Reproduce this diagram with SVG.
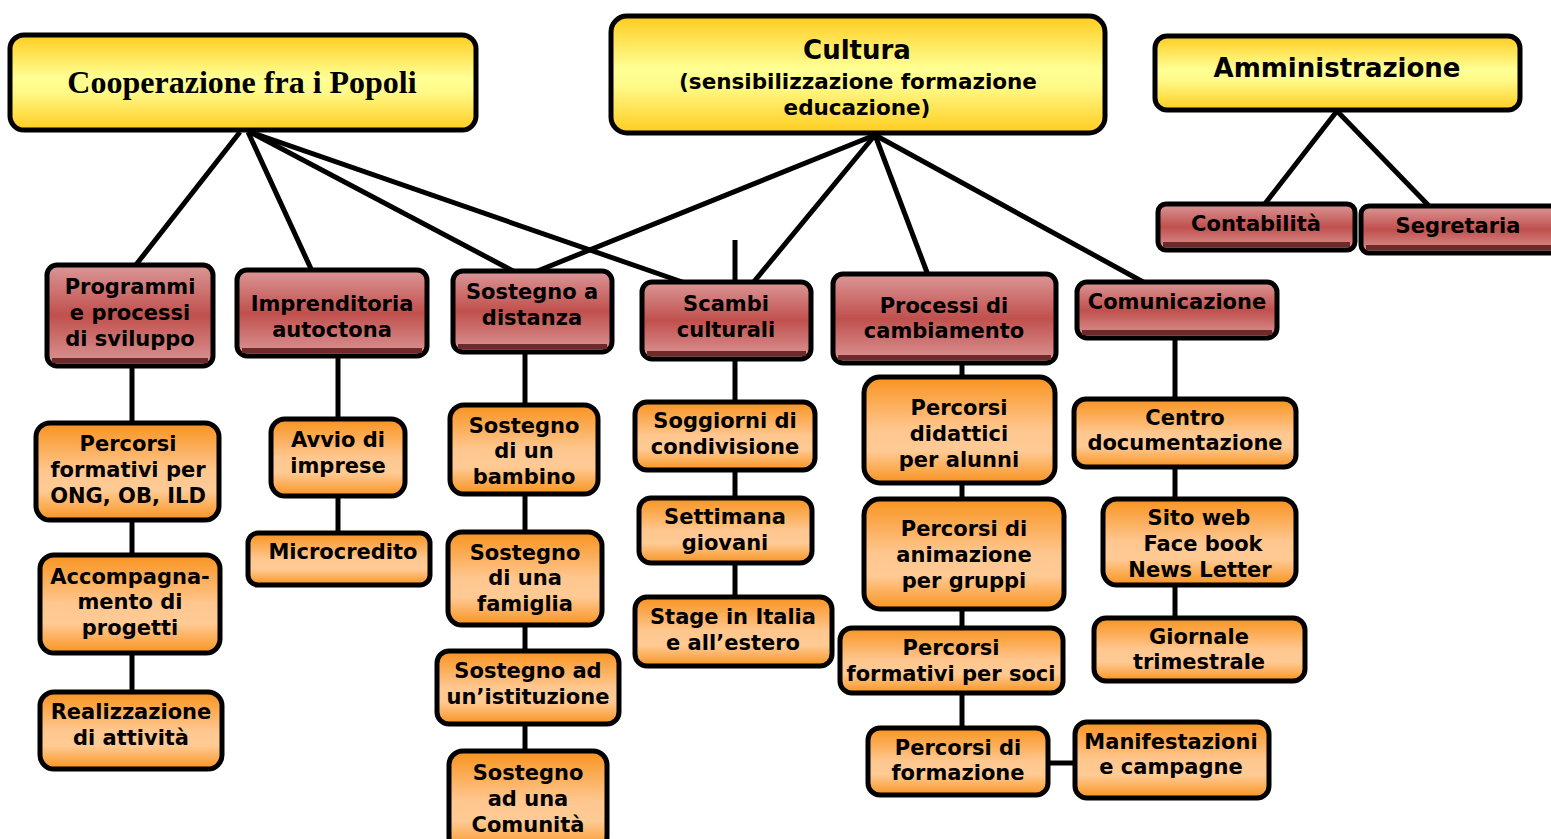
<svg xmlns="http://www.w3.org/2000/svg" width="1551" height="839" viewBox="0 0 1551 839">
<defs>
<linearGradient id="gy" x1="0" y1="0" x2="0" y2="1">
<stop offset="0" stop-color="#FFCC1F"/><stop offset="0.45" stop-color="#FFFF94"/><stop offset="0.6" stop-color="#FFFA88"/><stop offset="1" stop-color="#FFCC1F"/>
</linearGradient>
<linearGradient id="gr" x1="0" y1="0" x2="0" y2="1">
<stop offset="0" stop-color="#DB9797"/><stop offset="0.5" stop-color="#C0504D"/><stop offset="1" stop-color="#DB9797"/>
</linearGradient>
<linearGradient id="go" x1="0" y1="0" x2="0" y2="1">
<stop offset="0" stop-color="#F8931F"/><stop offset="0.5" stop-color="#FFC790"/><stop offset="0.7" stop-color="#FFCA94"/><stop offset="1" stop-color="#F8931F"/>
</linearGradient>
<style>
.y{fill:url(#gy);stroke:#000;stroke-width:5}
.r{fill:url(#gr);stroke:#000;stroke-width:5}
.o{fill:url(#go);stroke:#000;stroke-width:5}
.sh{fill:#6E2A29}
.t{font-family:"DejaVu Sans",Verdana,sans-serif;font-weight:bold;font-size:21px;text-anchor:middle;fill:#000}
.big{font-size:26px}
.sub{font-size:21.5px}
.ts{font-family:"Liberation Serif","Times New Roman",serif;font-weight:bold;font-size:32px;text-anchor:middle;fill:#000}
.c line{stroke:#000;stroke-width:5;stroke-linecap:butt}
</style>
</defs>
<rect width="1551" height="839" fill="#fff"/>

<g id="connectors" class="c">
<line x1="240" y1="132" x2="135" y2="266"/>
<line x1="248" y1="132" x2="312" y2="271"/>
<line x1="250" y1="132" x2="515" y2="272"/>
<line x1="250" y1="132" x2="688" y2="284"/>
<line x1="875" y1="135" x2="535" y2="272"/>
<line x1="875" y1="135" x2="752" y2="284"/>
<line x1="875" y1="135" x2="928" y2="275"/>
<line x1="875" y1="135" x2="1145" y2="283"/>
<line x1="735" y1="240" x2="735" y2="283"/>
<line x1="1337" y1="111" x2="1264" y2="205"/>
<line x1="1337" y1="111" x2="1430" y2="207"/>
<line x1="132" y1="366" x2="132" y2="423"/>
<line x1="132" y1="520" x2="132" y2="555"/>
<line x1="132" y1="653" x2="132" y2="692"/>
<line x1="338" y1="356" x2="338" y2="419"/>
<line x1="338" y1="496" x2="338" y2="533"/>
<line x1="525" y1="352" x2="525" y2="405"/>
<line x1="525" y1="494" x2="525" y2="532"/>
<line x1="525" y1="625" x2="525" y2="651"/>
<line x1="525" y1="724" x2="525" y2="751"/>
<line x1="735" y1="359" x2="735" y2="402"/>
<line x1="735" y1="470" x2="735" y2="498"/>
<line x1="735" y1="563" x2="735" y2="597"/>
<line x1="962" y1="363" x2="962" y2="377"/>
<line x1="962" y1="483" x2="962" y2="499"/>
<line x1="962" y1="609" x2="962" y2="628"/>
<line x1="962" y1="693" x2="962" y2="728"/>
<line x1="1048" y1="763" x2="1075" y2="763"/>
<line x1="1175" y1="338" x2="1175" y2="399"/>
<line x1="1175" y1="467" x2="1175" y2="499"/>
<line x1="1175" y1="585" x2="1175" y2="618"/>
</g>

<g id="n-cooperazione"><rect class="y" x="10" y="35" width="466" height="95" rx="14"/><text class="ts" x="242" y="93">Cooperazione fra i Popoli</text></g>
<g id="n-cultura"><rect class="y" x="611" y="16" width="494" height="117" rx="16"/>
<text class="t big" x="857" y="59">Cultura</text>
<text class="t sub" x="858" y="89">(sensibilizzazione formazione</text>
<text class="t sub" x="857" y="115">educazione)</text></g>
<g id="n-amministrazione"><rect class="y" x="1155" y="36" width="365" height="74" rx="12"/><text class="t big" x="1337" y="77">Amministrazione</text></g>

<g id="n-programmi"><rect class="r" x="47" y="265" width="166" height="101" rx="10"/><rect class="sh" x="52" y="358" width="156" height="5"/>
<text class="t" x="130" y="294">Programmi</text><text class="t" x="130" y="320">e processi</text><text class="t" x="130" y="346">di sviluppo</text></g>
<g id="n-imprenditoria"><rect class="r" x="237" y="270" width="190" height="86" rx="10"/><rect class="sh" x="242" y="348" width="180" height="5"/>
<text class="t" x="332" y="311">Imprenditoria</text><text class="t" x="332" y="337">autoctona</text></g>
<g id="n-sostegno-distanza"><rect class="r" x="453" y="271" width="159" height="81" rx="10"/><rect class="sh" x="458" y="344" width="149" height="5"/>
<text class="t" x="532" y="299">Sostegno a</text><text class="t" x="532" y="325">distanza</text></g>
<g id="n-scambi"><rect class="r" x="642" y="282" width="169" height="77" rx="10"/><rect class="sh" x="647" y="351" width="159" height="5"/>
<text class="t" x="726" y="311">Scambi</text><text class="t" x="726" y="337">culturali</text></g>
<g id="n-processi"><rect class="r" x="833" y="274" width="223" height="89" rx="10"/><rect class="sh" x="838" y="355" width="213" height="5"/>
<text class="t" x="944" y="313">Processi di</text><text class="t" x="944" y="338">cambiamento</text></g>
<g id="n-comunicazione"><rect class="r" x="1077" y="282" width="200" height="56" rx="10"/><rect class="sh" x="1082" y="330" width="190" height="5"/>
<text class="t" x="1177" y="309">Comunicazione</text></g>
<g id="n-contabilita"><rect class="r" x="1158" y="204" width="197" height="46" rx="8"/><rect class="sh" x="1163" y="242" width="187" height="5"/>
<text class="t" x="1256" y="231">Contabilità</text></g>
<g id="n-segretaria"><rect class="r" x="1361" y="206" width="200" height="47" rx="8"/><rect class="sh" x="1366" y="245" width="190" height="5"/>
<text class="t" x="1458" y="233">Segretaria</text></g>

<g id="n-ong"><rect class="o" x="36" y="423" width="183" height="97" rx="14"/><text class="t" x="128" y="451">Percorsi</text><text class="t" x="128" y="477">formativi per</text><text class="t" x="128" y="503">ONG, OB, ILD</text></g>
<g id="n-accompagnamento"><rect class="o" x="40" y="555" width="180" height="98" rx="14"/><text class="t" x="130" y="584">Accompagna-</text><text class="t" x="130" y="609">mento di</text><text class="t" x="130" y="635">progetti</text></g>
<g id="n-realizzazione"><rect class="o" x="40" y="692" width="182" height="77" rx="14"/><text class="t" x="131" y="719">Realizzazione</text><text class="t" x="131" y="745">di attività</text></g>
<g id="n-avvio"><rect class="o" x="271" y="419" width="134" height="77" rx="14"/><text class="t" x="338" y="447">Avvio di</text><text class="t" x="338" y="473">imprese</text></g>
<g id="n-microcredito"><rect class="o" x="248" y="533" width="182" height="52" rx="10"/><text class="t" x="343" y="559">Microcredito</text></g>
<g id="n-bambino"><rect class="o" x="450" y="405" width="148" height="89" rx="14"/><text class="t" x="524" y="433">Sostegno</text><text class="t" x="524" y="458">di un</text><text class="t" x="524" y="484">bambino</text></g>
<g id="n-famiglia"><rect class="o" x="448" y="532" width="154" height="93" rx="14"/><text class="t" x="525" y="560">Sostegno</text><text class="t" x="525" y="585">di una</text><text class="t" x="525" y="611">famiglia</text></g>
<g id="n-istituzione"><rect class="o" x="437" y="651" width="182" height="73" rx="12"/><text class="t" x="528" y="678">Sostegno ad</text><text class="t" x="528" y="704">un’istituzione</text></g>
<g id="n-comunita"><rect class="o" x="449" y="751" width="158" height="100" rx="14"/><text class="t" x="528" y="780">Sostegno</text><text class="t" x="528" y="806">ad una</text><text class="t" x="528" y="832">Comunità</text></g>
<g id="n-soggiorni"><rect class="o" x="635" y="402" width="180" height="68" rx="12"/><text class="t" x="725" y="428">Soggiorni di</text><text class="t" x="725" y="454">condivisione</text></g>
<g id="n-settimana"><rect class="o" x="639" y="498" width="173" height="65" rx="12"/><text class="t" x="725" y="524">Settimana</text><text class="t" x="725" y="550">giovani</text></g>
<g id="n-stage"><rect class="o" x="635" y="597" width="197" height="69" rx="12"/><text class="t" x="733" y="624">Stage in Italia</text><text class="t" x="733" y="650">e all’estero</text></g>
<g id="n-didattici"><rect class="o" x="864" y="377" width="191" height="106" rx="16"/><text class="t" x="959" y="415">Percorsi</text><text class="t" x="959" y="441">didattici</text><text class="t" x="959" y="467">per alunni</text></g>
<g id="n-animazione"><rect class="o" x="864" y="499" width="200" height="110" rx="16"/><text class="t" x="964" y="536">Percorsi di</text><text class="t" x="964" y="562">animazione</text><text class="t" x="964" y="588">per gruppi</text></g>
<g id="n-soci"><rect class="o" x="840" y="628" width="223" height="65" rx="12"/><text class="t" x="951" y="655">Percorsi</text><text class="t" x="951" y="681">formativi per soci</text></g>
<g id="n-formazione"><rect class="o" x="868" y="728" width="180" height="67" rx="12"/><text class="t" x="958" y="755">Percorsi di</text><text class="t" x="958" y="780">formazione</text></g>
<g id="n-manifestazioni"><rect class="o" x="1075" y="722" width="194" height="76" rx="12"/><text class="t" x="1171" y="749">Manifestazioni</text><text class="t" x="1171" y="774">e campagne</text></g>
<g id="n-centro"><rect class="o" x="1074" y="399" width="222" height="68" rx="12"/><text class="t" x="1185" y="425">Centro</text><text class="t" x="1185" y="450">documentazione</text></g>
<g id="n-sito"><rect class="o" x="1103" y="499" width="193" height="86" rx="14"/><text class="t" x="1199" y="525">Sito web</text><text class="t" x="1203" y="551">Face book</text><text class="t" x="1200" y="577">News Letter</text></g>
<g id="n-giornale"><rect class="o" x="1094" y="618" width="211" height="63" rx="12"/><text class="t" x="1199" y="644">Giornale</text><text class="t" x="1199" y="669">trimestrale</text></g>
</svg>
